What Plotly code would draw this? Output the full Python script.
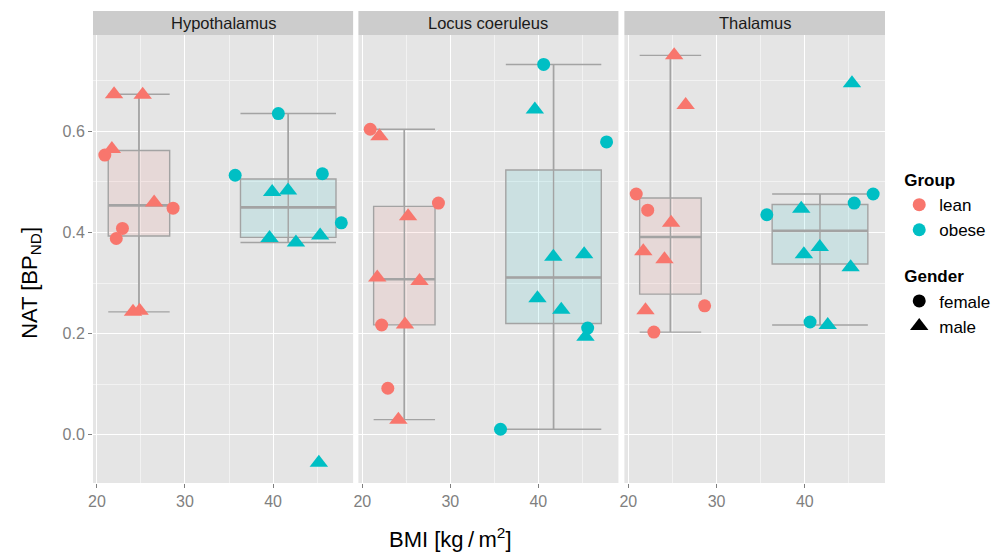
import numpy as np
import plotly.graph_objects as go

# ---------------- data ----------------
regions = ["Hypothalamus", "Locus coeruleus", "Thalamus"]
groups = ["lean", "obese"]
genders = ["female", "male"]

# BMI of each subject (same subjects in every region)
lean_female_bmi = [20.9, 22.2, 22.9, 28.65]
lean_male_bmi = [21.7, 21.95, 24.1, 24.85, 25.2, 26.5]
obese_female_bmi = [35.7, 40.6, 45.6, 47.75]
obese_male_bmi = [39.6, 39.9, 41.7, 42.6, 45.2, 45.35]

# NAT BPnd values, in the same subject order as the BMI lists
hyp_lean_female = [0.553, 0.388, 0.408, 0.448]
hyp_lean_male = [0.565, 0.673, 0.243, 0.245, 0.672, 0.459]
hyp_obese_female = [0.513, 0.635, 0.516, 0.419]
hyp_obese_male = [0.389, 0.480, 0.483, 0.380, -0.055, 0.394]

lc_lean_female = [0.604, 0.217, 0.092, 0.458]
lc_lean_male = [0.311, 0.590, 0.030, 0.218, 0.432, 0.304]
lc_obese_female = [0.011, 0.732, 0.211, 0.579]
lc_obese_male = [0.643, 0.270, 0.352, 0.247, 0.357, 0.194]

tha_lean_female = [0.476, 0.444, 0.203, 0.255]
tha_lean_male = [0.363, 0.246, 0.347, 0.419, 0.750, 0.652]
tha_obese_female = [0.435, 0.223, 0.458, 0.476]
tha_obese_male = [0.447, 0.357, 0.371, 0.217, 0.331, 0.695]

x_ticks = [20, 30, 40]
y_ticks = [0.0, 0.2, 0.4, 0.6]

# ---------------- styling ----------------
FONT = "Liberation Sans, Arial, sans-serif"
group_colors = {"lean": "#F8766D", "obese": "#00BFC4"}
group_fills = {"lean": "rgba(248,118,109,0.11)", "obese": "rgba(0,191,196,0.11)"}
gender_symbols = {"female": "circle", "male": "triangle-up"}
gender_sizes = {"female": 13, "male": 16}
BOX_LINE = "#A3A3A3"

bmi = {
    ("lean", "female"): lean_female_bmi,
    ("lean", "male"): lean_male_bmi,
    ("obese", "female"): obese_female_bmi,
    ("obese", "male"): obese_male_bmi,
}
values = {
    "Hypothalamus": {("lean", "female"): hyp_lean_female, ("lean", "male"): hyp_lean_male,
                     ("obese", "female"): hyp_obese_female, ("obese", "male"): hyp_obese_male},
    "Locus coeruleus": {("lean", "female"): lc_lean_female, ("lean", "male"): lc_lean_male,
                        ("obese", "female"): lc_obese_female, ("obese", "male"): lc_obese_male},
    "Thalamus": {("lean", "female"): tha_lean_female, ("lean", "male"): tha_lean_male,
                 ("obese", "female"): tha_obese_female, ("obese", "male"): tha_obese_male},
}


def box_stats(vals):
    v = np.sort(np.asarray(vals, dtype=float))
    q1, med, q3 = np.percentile(v, [25, 50, 75])
    iqr = q3 - q1
    lo = v[v >= q1 - 1.5 * iqr].min()
    hi = v[v <= q3 + 1.5 * iqr].max()
    return q1, med, q3, lo, hi


fig = go.Figure()

all_bmi = lean_female_bmi + lean_male_bmi + obese_female_bmi + obese_male_bmi
all_vals = [v for r in regions for k in values[r] for v in values[r][k]]
xpad = 0.05 * (max(all_bmi) - min(all_bmi))
ypad = 0.05 * (max(all_vals) - min(all_vals))
x_range = [min(all_bmi) - xpad, max(all_bmi) + xpad]
y_range = [min(all_vals) - ypad, max(all_vals) + ypad]

for i, reg in enumerate(regions):
    xa = "x" if i == 0 else f"x{i+1}"
    ya = "y" if i == 0 else f"y{i+1}"
    # boxes
    for g in groups:
        gx = bmi[(g, "female")] + bmi[(g, "male")]
        gy = values[reg][(g, "female")] + values[reg][(g, "male")]
        q1, med, q3, lo, hi = box_stats(gy)
        center = (min(gx) + max(gx)) / 2
        width = 0.9 * (max(gx) - min(gx))
        fig.add_trace(go.Box(
            x=[center], q1=[q1], median=[med], q3=[q3],
            lowerfence=[lo], upperfence=[hi],
            width=width, whiskerwidth=1, boxpoints=False,
            fillcolor=group_fills[g], line=dict(color=BOX_LINE, width=1.4),
            xaxis=xa, yaxis=ya, showlegend=False, hoverinfo="skip",
        ))
        # whisker line through the box, and a thicker median line
        fig.add_trace(go.Scatter(
            x=[center, center], y=[lo, hi], mode="lines",
            line=dict(color=BOX_LINE, width=1.4),
            xaxis=xa, yaxis=ya, showlegend=False, hoverinfo="skip",
        ))
        fig.add_trace(go.Scatter(
            x=[center - width / 2, center + width / 2], y=[med, med], mode="lines",
            line=dict(color=BOX_LINE, width=2.6),
            xaxis=xa, yaxis=ya, showlegend=False, hoverinfo="skip",
        ))
    # points
    for g in groups:
        for s in genders:
            fig.add_trace(go.Scatter(
                x=bmi[(g, s)], y=values[reg][(g, s)], mode="markers",
                marker=dict(color=group_colors[g], symbol=gender_symbols[s],
                            size=gender_sizes[s], line=dict(width=0)),
                xaxis=xa, yaxis=ya, showlegend=False,
                name=f"{g} {s}",
            ))

# legend-only traces
for j, g in enumerate(groups):
    fig.add_trace(go.Scatter(
        x=[None], y=[None], mode="markers", name=g,
        marker=dict(color=group_colors[g], symbol="circle", size=13),
        legendgroup="Group",
        legendgrouptitle=dict(text="<b>Group</b>", font=dict(size=17, color="#000000")),
        showlegend=True,
    ))
for j, s in enumerate(genders):
    fig.add_trace(go.Scatter(
        x=[None], y=[None], mode="markers", name=s,
        marker=dict(color="#000000", symbol=gender_symbols[s], size=13 if s == "female" else 16),
        legendgroup="Gender",
        legendgrouptitle=dict(text="<b>Gender</b>", font=dict(size=17, color="#000000")),
        showlegend=True,
    ))

# ---------------- layout ----------------
W, H = 1008, 552
L, R, T, B = 92.5, 119.3, 35, 69
plot_w = W - L - R
plot_h = H - T - B
panel_px = [(92.5, 354.0), (359.3, 620.7), (626.7, 888.7)]
domains = [[(a - L) / plot_w, (b - L) / plot_w] for a, b in panel_px]

axis_common = dict(
    showline=False, zeroline=False, showgrid=True,
    gridcolor="#FFFFFF", gridwidth=1.2,
    ticks="outside", ticklen=4, tickwidth=1, tickcolor="#7F7F7F",
    tickfont=dict(family=FONT, size=16, color="#7F7F7F"),
)

layout = dict(
    width=W, height=H,
    margin=dict(l=L, r=R, t=T, b=B, pad=0),
    paper_bgcolor="#FFFFFF", plot_bgcolor="#E5E5E5",
    font=dict(family=FONT, color="#000000"),
    boxmode="overlay",
    legend=dict(
        x=(903 - L) / plot_w, y=(483 - 162) / plot_h, xanchor="left", yanchor="top",
        font=dict(family=FONT, size=17, color="#000000"),
        traceorder="grouped", tracegroupgap=21,
        bgcolor="rgba(0,0,0,0)", itemsizing="trace",
    ),
)

for i in range(3):
    xk = "xaxis" if i == 0 else f"xaxis{i+1}"
    yk = "yaxis" if i == 0 else f"yaxis{i+1}"
    layout[xk] = dict(
        axis_common, domain=domains[i], range=x_range,
        tickvals=x_ticks, anchor="y" if i == 0 else f"y{i+1}",
        minor=dict(tickvals=[25, 35, 45], showgrid=True, gridcolor="#F2F2F2",
                   gridwidth=0.7, ticks=""),
    )
    ydict = dict(
        axis_common, domain=[0, 1], range=y_range,
        tickvals=y_ticks, tickformat=".1f",
        anchor="x" if i == 0 else f"x{i+1}",
        minor=dict(tickvals=[0.1, 0.3, 0.5, 0.7], showgrid=True, gridcolor="#F2F2F2",
                   gridwidth=0.7, ticks=""),
    )
    if i > 0:
        ydict.update(matches="y", showticklabels=False, ticks="")
    layout[yk] = ydict

fig.update_layout(**layout)

strip_h = 24 / plot_h
for i, reg in enumerate(regions):
    xr = "x domain" if i == 0 else f"x{i+1} domain"
    yr = "y domain" if i == 0 else f"y{i+1} domain"
    fig.add_shape(type="rect", xref=xr, yref=yr, x0=0, x1=1, y0=1, y1=1 + strip_h,
                  fillcolor="#CCCCCC", line=dict(width=0), layer="below")
    fig.add_annotation(xref=xr, yref=yr, x=0.5, y=1 + strip_h / 2, text=reg,
                       showarrow=False, xanchor="center", yanchor="middle",
                       font=dict(family=FONT, size=16.5, color="#1A1A1A"))

# axis titles
fig.add_annotation(xref="paper", yref="paper", x=(452 - L) / plot_w, y=(483 - 538) / plot_h,
                   text="BMI [kg\u2009/\u2009m<sup>2</sup>]", showarrow=False,
                   xanchor="center", yanchor="middle",
                   font=dict(family=FONT, size=22, color="#000000"))
fig.add_annotation(xref="paper", yref="paper", x=(30 - L) / plot_w, y=(483 - 283) / plot_h,
                   text="NAT [BP<sub>ND</sub>]", showarrow=False, textangle=-90,
                   xanchor="center", yanchor="middle",
                   font=dict(family=FONT, size=22, color="#000000"))

fig.write_html("out.html", config={"displayModeBar": False},
               post_script="document.body.style.margin='0px';document.body.style.overflow='hidden';")
